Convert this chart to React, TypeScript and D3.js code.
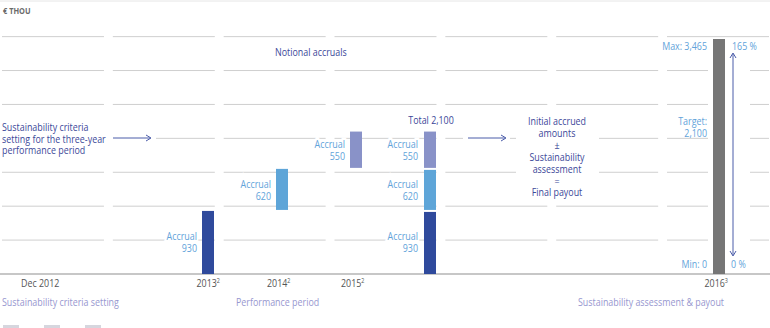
import React, {useEffect, useRef} from 'react'
import * as d3 from 'd3';

// values in € thousand
const accrualYears = ['2013', '2014', '2015']
const accrualValues = [930, 620, 550]
const totalValue = 2100
const maxValue = 3465
const minValue = 0
const gridTicks = [500, 1000, 1500, 2000, 2500, 3000, 3500]
const barSlots = ['2013', '2014', '2015', 'Total']
const axisLabels = [
    {text: 'Dec 2012', sup: ''},
    {text: '2013', sup: '2'},
    {text: '2014', sup: '2'},
    {text: '2015', sup: '2'},
    {text: '2016', sup: '3'},
]
const phaseLabels = ['Sustainability criteria setting', 'Performance period', 'Sustainability assessment & payout']
const leftNote = ['Sustainability criteria', 'setting for the three-year', 'performance period']
const payoutNote = ['Initial accrued', 'amounts', '±', 'Sustainability', 'assessment', '=', 'Final payout']

const colors = ['#2f4a9c', '#5ea5d8', '#8992c8']
const darkText = '#3c4899'
const lightText = '#62a3da'
const phaseText = '#9797cf'
const font = "'Open Sans', 'Noto Sans', sans-serif"
const sx = 0.78 // condensed look

export default function App() {
    const ref = useRef(null)

    const makeChart = () => {
        const width = 770, height = 328
        const svg = d3.select(ref.current)
        svg.selectAll('*').remove()
        svg.attr('width', width).attr('height', height)
            .style('font-family', font)

        // condensed text helper
        const txt = (g, x, yy, s, anchor = 'start', size = 11.4) =>
            g.append('text')
                .attr('transform', `translate(${x},${yy}) scale(${sx},1)`)
                .attr('text-anchor', anchor)
                .style('font-size', size + 'px')
                .text(s)

        const y = d3.scaleLinear().domain([0, maxValue]).range([274, 39])
        const cols = d3.scaleBand().domain(d3.range(7)).range([2, 769]).paddingInner(0.08)
        const x = d3.scalePoint().domain(barSlots).range([202, 424])
        const barW = 12
        const maxX = 713

        // top rule
        svg.append('line').attr('x1', 0).attr('x2', width).attr('y1', 1).attr('y2', 1)
            .attr('stroke', '#e6e6e6')

        txt(svg, 3, 13.5, '€ THOU', 'start', 9.5).style('font-weight', 'bold').attr('fill', '#6b6b6b')

        // segmented grid
        gridTicks.forEach(t => {
            d3.range(7).forEach(c => {
                svg.append('line')
                    .attr('x1', cols(c)).attr('x2', cols(c) + cols.bandwidth())
                    .attr('y1', y(t)).attr('y2', y(t))
                    .attr('stroke', '#cfcfcf').attr('stroke-width', 1)
            })
        })
        svg.append('line').attr('x1', 0).attr('x2', width).attr('y1', y(0)).attr('y2', y(0))
            .attr('stroke', '#b5b5b5').attr('stroke-width', 1.3)

        // white knockouts behind the notes
        svg.append('rect').attr('x', 0).attr('y', 117).attr('width', 156).attr('height', 40).attr('fill', '#fff')
        svg.append('rect').attr('x', 516).attr('y', 112).attr('width', 83).attr('height', 86).attr('fill', '#fff')
        svg.append('rect').attr('x', 463).attr('y', 133).attr('width', 47).attr('height', 10).attr('fill', '#fff')
        svg.append('rect').attr('x', maxX - 5).attr('y', y(maxValue)).attr('width', barW + 30).attr('height', y(0) - y(maxValue) - 1).attr('fill', '#fff')

        // single year accruals
        let cum = 0
        const segs = accrualValues.map((v, i) => {
            const s = {year: accrualYears[i], v, lo: cum, hi: cum + v, color: colors[i]}
            cum += v
            return s
        })

        const label = (xr, lo, hi, v) => {
            const mid = (y(lo) + y(hi)) / 2
            const g = svg.append('g').attr('fill', lightText)
            ;[['Accrual', mid - 2], [d3.format(',')(v), mid + 10]].forEach(([t, yy]) => {
                txt(g, xr, yy, t, 'end')
                    .attr('stroke', '#fff').attr('stroke-width', 5).attr('paint-order', 'stroke')
            })
        }

        segs.forEach(s => {
            svg.append('rect')
                .attr('x', x(s.year)).attr('y', y(s.hi))
                .attr('width', barW).attr('height', y(s.lo) - y(s.hi) - (s.lo === 0 ? 0 : 1))
                .attr('fill', s.color)
            label(x(s.year) - 5, s.lo, s.hi, s.v)
        })

        // stacked total
        segs.forEach(s => {
            svg.append('rect')
                .attr('x', x('Total')).attr('y', y(s.hi) + (s.hi === totalValue ? 0 : 1))
                .attr('width', barW).attr('height', y(s.lo) - y(s.hi) - (s.hi === totalValue ? 0 : 1) - (s.lo === 0 ? 0 : 1))
                .attr('fill', s.color)
            label(x('Total') - 6, s.lo, s.hi, s.v)
        })
        txt(svg, x('Total') + 7, 124, 'Total ' + d3.format(',')(totalValue), 'middle').attr('fill', darkText)

        // payout range bar
        svg.append('rect').attr('x', maxX).attr('y', y(maxValue)).attr('width', barW)
            .attr('height', y(minValue) - y(maxValue)).attr('fill', '#767676')

        const arrowColor = '#4b5ca9'
        const ax = 733
        svg.append('line').attr('x1', ax).attr('x2', ax).attr('y1', 54).attr('y2', 255)
            .attr('stroke', arrowColor).attr('stroke-width', 1)
        svg.append('path').attr('d', `M${ax - 3},58 L${ax},53 L${ax + 3},58`).attr('fill', 'none').attr('stroke', arrowColor)
        svg.append('path').attr('d', `M${ax - 3},251 L${ax},256 L${ax + 3},251`).attr('fill', 'none').attr('stroke', arrowColor)

        const rl = svg.append('g').attr('fill', lightText)
        txt(rl, 707, y(maxValue) + 11, 'Max: ' + d3.format(',')(maxValue), 'end')
        txt(rl, 732, y(maxValue) + 11, '165 %')
        txt(rl, 707, y(totalValue) - 7, 'Target:', 'end')
        txt(rl, 707, y(totalValue) + 5, d3.format(',')(totalValue), 'end')
        txt(rl, 707, y(minValue) - 6, 'Min: ' + minValue, 'end')
        txt(rl, 731, y(minValue) - 6, '0 %')

        // notes
        txt(svg, 275, 56, 'Notional accruals').attr('fill', darkText)

        const ln = svg.append('g').attr('fill', darkText)
        leftNote.forEach((t, i) => {
            txt(ln, 2, 131 + i * 11.7, t)
        })
        const arrow = (x1, x2, yy) => {
            svg.append('line').attr('x1', x1).attr('x2', x2 - 1).attr('y1', yy).attr('y2', yy)
                .attr('stroke', arrowColor)
            svg.append('path').attr('d', `M${x2 - 5},${yy - 3} L${x2},${yy} L${x2 - 5},${yy + 3}`)
                .attr('fill', 'none').attr('stroke', arrowColor)
        }
        arrow(113, 151, 138)
        arrow(468, 506, 138)

        const pn = svg.append('g').attr('fill', darkText)
        payoutNote.forEach((t, i) => {
            txt(pn, 557, 125 + i * 11.9, t, 'middle')
        })

        // axis labels
        const axisPos = [{x: 21, anchor: 'start'}, {x: x('2013') + barW + 6, anchor: 'end'},
            {x: x('2014') - 9, anchor: 'start'}, {x: x('2015') - 9, anchor: 'start'},
            {x: maxX + barW + 3, anchor: 'end'}]
        axisLabels.forEach((a, i) => {
            const t = txt(svg, axisPos[i].x, 287, '', axisPos[i].anchor).attr('fill', '#555')
            t.append('tspan').text(a.text)
            if (a.sup) t.append('tspan').attr('dy', -4).style('font-size', '7px').text(a.sup)
        })

        const phaseX = [2, 236, 578]
        phaseLabels.forEach((p, i) => {
            txt(svg, phaseX[i], 306, p).attr('fill', phaseText)
        })

        // legend swatches, cut off by the frame
        ;[3, 44, 85].forEach(lx => {
            svg.append('rect').attr('x', lx).attr('y', 325).attr('width', 16).attr('height', 6)
                .attr('fill', '#d6d6de')
        })
    }

    useEffect(() => {
        makeChart()
    }, []);

    return (
        <svg ref={ref} style={{position: 'absolute', left: 0, top: 0}}></svg>
    )
}
